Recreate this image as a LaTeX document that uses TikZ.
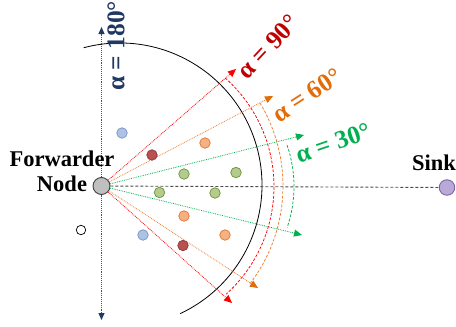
\documentclass[tikz,border=0pt]{standalone}
\usepackage{fontspec}
\setmainfont{Liberation Serif}
\usetikzlibrary{arrows.meta}
\definecolor{cRed}{HTML}{FF0000}
\definecolor{cRedT}{HTML}{C00000}
\definecolor{cOr}{HTML}{ED7D31}
\definecolor{cOrT}{HTML}{E36C09}
\definecolor{cGr}{HTML}{00B050}
\definecolor{cNavy}{HTML}{1F3864}
\definecolor{cAxis}{HTML}{2F5597}
\definecolor{drF}{HTML}{B8524F}
\definecolor{drD}{HTML}{8C3836}
\definecolor{orF}{HTML}{F4B183}
\definecolor{orD}{HTML}{E07428}
\definecolor{grF}{HTML}{B3CB8B}
\definecolor{grD}{HTML}{6F8F3C}
\definecolor{blF}{HTML}{AEC2E4}
\definecolor{blD}{HTML}{7491C4}
\definecolor{fwF}{HTML}{BFBFBF}
\definecolor{fwD}{HTML}{404040}
\definecolor{skF}{HTML}{B9A9D6}
\definecolor{skD}{HTML}{8064A2}
\begin{document}
\begin{tikzpicture}[x=1pt,y=1pt,
  dotnode/.style={circle, inner sep=0pt, minimum size=10.5pt, line width=0.7pt},
  reddot/.style={dotnode, fill=drF, draw=drD},
  ordot/.style={dotnode, fill=orF, draw=orD},
  grdot/.style={dotnode, fill=grF, draw=grD},
  bldot/.style={dotnode, fill=blF, draw=blD},
  whdot/.style={dotnode, minimum size=9.5pt, fill=white, draw=black},
  fwd/.style={circle, inner sep=0pt, minimum size=17pt, fill=fwF, draw=fwD, line width=0.9pt},
  sinknode/.style={circle, inner sep=0pt, minimum size=15.5pt, fill=skF, draw=skD, line width=0.9pt},
  ray/.style={densely dotted, line width=0.8pt},
  tip/.style={-{Triangle[length=8pt,width=7pt]}},
  angarc/.style={dash pattern=on 2.8pt off 1.6pt, line width=0.75pt},
  lbl/.style={font=\fontsize{22.5}{25}\selectfont\bfseries, inner sep=0pt, align=center},
  alab/.style={font=\fontsize{25.5}{28}\selectfont\bfseries, inner sep=0pt}
]
\useasboundingbox (0,0) rectangle (456,-327);

% vertical axis
\coordinate (axtop) at (101.5,-27);
\coordinate (axbot) at (101.5,-320);
\draw[cAxis, densely dotted, line width=0.9pt, {Triangle[length=7pt,width=6pt,color=cNavy]}-{Triangle[length=7pt,width=6pt,color=cNavy]}] (axbot) -- (axtop);

% black arc
\draw[black, line width=0.8pt] (120,-185) ++(104.8:142) arc[start angle=104.8, end angle=-64.9, radius=142];

% angle arcs
\draw[angarc, cRed] (129,-186.5) ++(48.5:145) arc[start angle=48.5, end angle=-48, radius=145];
\draw[angarc, cOr] (122,-186) ++(31:161) arc[start angle=31, end angle=-37.4, radius=161];
\draw[angarc, cGr] (167.5,-186.5) ++(19.1:126.5) arc[start angle=19.1, end angle=-18.9, radius=126.5];

% nodes
\node[fwd] (F) at (101.5,-186) {};
\node[sinknode] (S) at (447,-187.5) {};

% horizontal dashed line
\draw[densely dashed, line width=0.9pt, black!70] (F) -- (S);

% rays
\coordinate (rt) at (236,-69);
\coordinate (rb) at (232,-303);
\coordinate (ot) at (273,-96);
\coordinate (ob) at (258,-288);
\coordinate (gt) at (304,-135);
\coordinate (gb) at (302,-235);
\draw[ray, cRed, tip] (F) -- (rt);
\draw[ray, cRed, tip] (F) -- (rb);
\draw[ray, cOr, -{Triangle[length=8pt,width=7pt,color=cOrT]}] (F) -- (ot);
\draw[ray, cOr, -{Triangle[length=8pt,width=7pt,color=cOrT]}] (F) -- (ob);
\draw[ray, cGr, tip] (F) -- (gt);
\draw[ray, cGr, tip] (F) -- (gb);

% sensor dots
\node[bldot] (d1) at (122,-133) {};
\node[reddot] (d2) at (152,-155) {};
\node[ordot] (d3) at (205,-143) {};
\node[grdot] (d4) at (184,-174) {};
\node[grdot] (d5) at (236,-172.5) {};
\node[grdot] (d6) at (159.5,-192.5) {};
\node[grdot] (d7) at (215,-193) {};
\node[ordot] (d8) at (184,-216) {};
\node[ordot] (d9) at (225,-235) {};
\node[bldot] (d10) at (143,-235) {};
\node[reddot] (d11) at (183,-245.5) {};
\node[whdot] (d12) at (81,-230) {};

% labels
\node[lbl] (fl) at (62,-171) {Forwarder\\Node};
\node[lbl] (sl) at (434,-163) {Sink};
\node[alab, text=cNavy, rotate=90] (a180) at (116,-46) {α = 180°};
\node[alab, text=cRedT, rotate=47] (a90) at (268,-47) {α = 90°};
\node[alab, text=cOrT, rotate=33] (a60) at (307,-95) {α = 60°};
\node[alab, text=cGr, rotate=19] (a30) at (333,-143) {α = 30°};
\end{tikzpicture}
\end{document}
